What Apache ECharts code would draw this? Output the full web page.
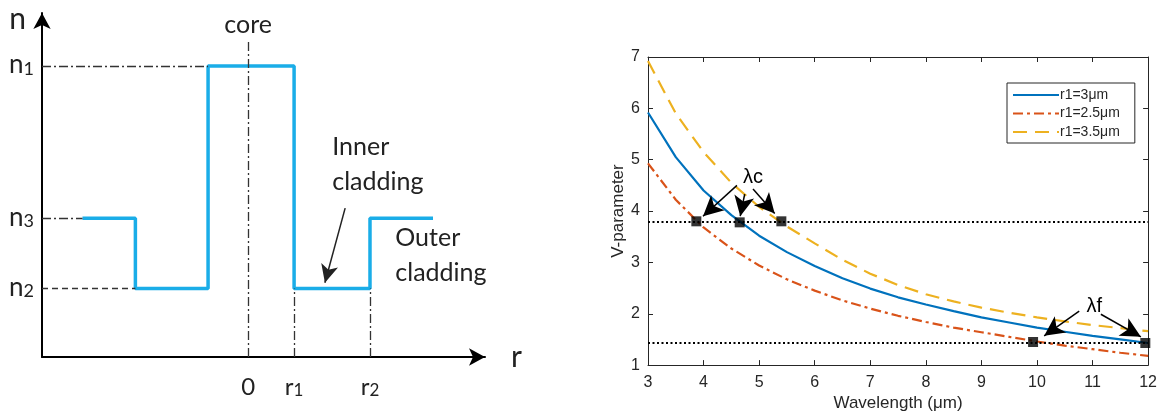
<!DOCTYPE html>
<html>
<head>
<meta charset="utf-8">
<script src="https://cdn.jsdelivr.net/npm/echarts@6.0.0/dist/echarts.min.js"></script>
<style>
  html, body { margin: 0; padding: 0; background: #fff; }
  #main { width: 1160px; height: 417px; }
</style>
</head>
<body>
<div id="main"></div>
<script>
// ---- left: refractive index profile (schematic units) ----
var profileR = [-3.6, -2.45, -2.45, -0.87, -0.87, 1, 1, 2.65, 2.65, 4.02];
var profileN = [4.05, 4.05, 2, 2, 8.5, 8.5, 2, 2, 4.05, 4.05];
var nLevels = [8.5, 4.05, 2];
var nSubs = ['1', '3', '2'];
var rTicks = [0, 1, 2.65];
var rTickLabels = ['0', 'r1', 'r2'];
var rMin = -4.48, rMax = 5.15, nMax = 10.05;

// ---- right: V-parameter vs wavelength ----
var wavelength = [3, 3.5, 4, 4.5, 5, 5.5, 6, 6.5, 7, 7.5, 8, 8.5, 9, 9.5, 10, 10.5, 11, 11.5, 12];
var vR3  = [5.92, 5.05, 4.40, 3.92, 3.52, 3.20, 2.93, 2.69, 2.49, 2.32, 2.18, 2.05, 1.93, 1.83, 1.73, 1.65, 1.57, 1.50, 1.43];
var vR25 = [4.93, 4.22, 3.68, 3.27, 2.94, 2.67, 2.45, 2.26, 2.10, 1.96, 1.84, 1.73, 1.64, 1.55, 1.46, 1.38, 1.31, 1.24, 1.18];
var vR35 = [6.92, 5.90, 5.15, 4.55, 4.08, 3.70, 3.37, 3.05, 2.78, 2.56, 2.38, 2.24, 2.12, 2.02, 1.93, 1.85, 1.78, 1.72, 1.66];
var seriesNames = ['r1=3μm', 'r1=2.5μm', 'r1=3.5μm'];
var cutoffLevels = [3.79, 1.43];
var lambdaC = [[3.87, 3.8], [4.65, 3.78], [5.4, 3.8]];
var lambdaF = [[9.93, 1.45], [11.95, 1.43]];
var arrowsC = [[[4.6, 4.5], [3.99, 3.9]], [[4.74, 4.33], [4.66, 3.9]], [[4.89, 4.43], [5.28, 3.95]]];
var arrowsF = [[[10.76, 2.05], [10.13, 1.57]], [[11.15, 1.99], [11.87, 1.55]]];

function zip(a, b) {
    return a.map(function (v, i) { return [v, b[i]]; });
}

var myChart = echarts.init(document.getElementById('main'), null, {renderer: 'canvas'});

var txt = '#262626';
var leftFont = 'Lato, "Noto Sans", sans-serif';
var rightFont = '"Liberation Sans", Arial, sans-serif';

var dashDot = [9, 3, 2, 3];

var guides = [
    [[rMin, nLevels[0]], [-0.87, nLevels[0]], dashDot],
    [[rMin, nLevels[1]], [-3.6, nLevels[1]], dashDot],
    [[rMin, nLevels[2]], [-2.45, nLevels[2]], [6, 4]],
    [[0, 0], [0, 9.26], dashDot],
    [[1, 0], [1, 2], dashDot],
    [[2.65, 0], [2.65, 2], dashDot]
];

var option = {
    animation: false,
    backgroundColor: '#fff',
    grid: [
        {left: 42, top: 13, width: 443, height: 344},
        {left: 648, top: 57, width: 501, height: 315}
    ],
    xAxis: [
        {
            gridIndex: 0, type: 'value', min: rMin, max: rMax,
            splitLine: {show: false}, axisTick: {show: false},
            axisLine: {onZero: false, lineStyle: {color: '#000', width: 2}, symbol: ['none', 'arrow'], symbolSize: [13, 16]},
            axisLabel: {
                customValues: rTicks, margin: 18,
                formatter: function (v) {
                    var s = rTickLabels[rTicks.indexOf(v)];
                    if (s.length > 1) return '{n|' + s[0] + '}{s|' + s[1] + '}';
                    return '{n|' + s + '}';
                },
                rich: {
                    n: {fontFamily: leftFont, fontSize: 24, color: '#222', verticalAlign: 'bottom', lineHeight: 24},
                    s: {fontFamily: leftFont, fontSize: 17, color: '#222', verticalAlign: 'bottom', lineHeight: 11}
                }
            },
            name: 'r', nameLocation: 'end', nameGap: 26,
            nameTextStyle: {fontFamily: leftFont, fontSize: 30, color: '#222'}
        },
        {
            gridIndex: 1, type: 'value', min: 3, max: 12, interval: 1,
            splitLine: {show: false},
            axisTick: {inside: true, length: 5, lineStyle: {color: txt}},
            axisLine: {onZero: false, lineStyle: {color: txt, width: 1}},
            axisLabel: {color: txt, fontFamily: rightFont, fontSize: 16, margin: 9},
            name: 'Wavelength (μm)', nameLocation: 'middle', nameGap: 25,
            nameTextStyle: {color: txt, fontFamily: rightFont, fontSize: 17}
        },
        {
            gridIndex: 1, type: 'value', min: 3, max: 12, interval: 1, position: 'top',
            splitLine: {show: false}, axisLabel: {show: false},
            axisTick: {inside: true, length: 5, lineStyle: {color: txt}},
            axisLine: {onZero: false, lineStyle: {color: txt, width: 1}}
        }
    ],
    yAxis: [
        {
            gridIndex: 0, type: 'value', min: 0, max: nMax,
            splitLine: {show: false}, axisTick: {show: false},
            axisLine: {onZero: false, lineStyle: {color: '#000', width: 2}, symbol: ['none', 'arrow'], symbolSize: [13, 16]},
            axisLabel: {
                customValues: nLevels, margin: 8,
                formatter: function (v) {
                    return '{n|n}{s|' + nSubs[nLevels.indexOf(v)] + '}';
                },
                rich: {
                    n: {fontFamily: leftFont, fontSize: 26, color: '#222', verticalAlign: 'bottom', lineHeight: 24},
                    s: {fontFamily: leftFont, fontSize: 18, color: '#222', verticalAlign: 'bottom', lineHeight: 11}
                }
            },
            name: 'n', nameLocation: 'end', nameGap: -6,
            nameTextStyle: {fontFamily: leftFont, fontSize: 30, color: '#222', align: 'right', verticalAlign: 'middle', padding: [0, 16, 0, 0]}
        },
        {
            gridIndex: 1, type: 'value', min: 1, max: 7, interval: 1,
            splitLine: {show: false},
            axisTick: {inside: true, length: 5, lineStyle: {color: txt}},
            axisLine: {onZero: false, lineStyle: {color: txt, width: 1}},
            axisLabel: {color: txt, fontFamily: rightFont, fontSize: 16, margin: 8},
            name: 'V-parameter', nameLocation: 'middle', nameGap: 20,
            nameTextStyle: {color: txt, fontFamily: rightFont, fontSize: 17}
        },
        {
            gridIndex: 1, type: 'value', min: 1, max: 7, interval: 1, position: 'right',
            splitLine: {show: false}, axisLabel: {show: false},
            axisTick: {inside: true, length: 5, lineStyle: {color: txt}},
            axisLine: {onZero: false, lineStyle: {color: txt, width: 1}}
        }
    ],
    legend: {
        data: seriesNames,
        orient: 'vertical',
        left: 1007, top: 83,
        padding: [5, 15, 4, 5],
        itemWidth: 46, itemHeight: 14, itemGap: 4.5,
        itemStyle: {opacity: 0},
        borderColor: txt, borderWidth: 1, backgroundColor: '#fff',
        textStyle: {color: txt, fontFamily: rightFont, fontSize: 14, padding: [0, 0, 0, -4]}
    },
    series: [
        // profile
        {
            type: 'line', xAxisIndex: 0, yAxisIndex: 0, symbol: 'none', silent: true,
            data: zip(profileR, profileN),
            lineStyle: {color: '#1AADE8', width: 3.5},
            markLine: {
                silent: true, symbol: 'none', label: {show: false},
                data: guides.map(function (g) {
                    return [{coord: g[0], lineStyle: {color: '#333', width: 1.3, type: g[2]}}, {coord: g[1]}];
                }).concat([[
                    {coord: [2.11, 4.35], symbol: 'none', lineStyle: {color: '#222', width: 1.5, type: 'solid'}},
                    {coord: [1.67, 2.17], symbol: 'arrow', symbolSize: [13, 18]}
                ]])
            },
            markPoint: {
                symbol: 'circle', symbolSize: 0, silent: true,
                data: [
                    {coord: [0, 9.69], label: {formatter: 'core', align: 'center'}},
                    {coord: [1.83, 5.62], label: {formatter: 'Inner\ncladding', align: 'left'}},
                    {coord: [3.2, 2.96], label: {formatter: 'Outer\ncladding', align: 'left'}}
                ],
                label: {show: true, position: [0, 0], verticalAlign: 'middle', fontFamily: leftFont, fontSize: 25, lineHeight: 35, color: '#222'}
            }
        },
        // V-parameter curves
        {
            name: seriesNames[0], type: 'line', xAxisIndex: 1, yAxisIndex: 1, symbol: 'none',
            data: zip(wavelength, vR3),
            itemStyle: {color: '#0072BD'},
            lineStyle: {color: '#0072BD', width: 2.2},
            markLine: {
                silent: true, symbol: ['none', 'arrow'], symbolSize: [15, 20], label: {show: false},
                lineStyle: {color: '#000', width: 1.5, type: 'solid'},
                data: arrowsC.concat(arrowsF).map(function (a) {
                    return [{coord: a[0]}, {coord: a[1]}];
                })
            },
            markPoint: {
                symbol: 'circle', symbolSize: 0, silent: true,
                data: [
                    {coord: [4.89, 4.66], label: {formatter: 'λc'}},
                    {coord: [11.03, 2.14], label: {formatter: 'λf'}}
                ],
                label: {show: true, position: [0, 0], align: 'center', verticalAlign: 'middle', fontFamily: rightFont, fontSize: 20, color: '#000'}
            }
        },
        {
            name: seriesNames[1], type: 'line', xAxisIndex: 1, yAxisIndex: 1, symbol: 'none',
            data: zip(wavelength, vR25),
            itemStyle: {color: '#D95319'},
            lineStyle: {color: '#D95319', width: 2.2, type: [10, 4, 3, 4]}
        },
        {
            name: seriesNames[2], type: 'line', xAxisIndex: 1, yAxisIndex: 1, symbol: 'none',
            data: zip(wavelength, vR35),
            itemStyle: {color: '#EDB120'},
            lineStyle: {color: '#EDB120', width: 2.2, type: [14, 8]}
        },
        // cutoff markers and dotted levels
        {
            type: 'scatter', xAxisIndex: 1, yAxisIndex: 1, symbol: 'rect', symbolSize: 10,
            data: lambdaC.concat(lambdaF), itemStyle: {color: '#000'}, z: 5,
            markLine: {
                silent: true, symbol: 'none', label: {show: false},
                lineStyle: {color: '#000', width: 2, type: [2, 2.5]},
                data: cutoffLevels.map(function (v) { return {yAxis: v}; })
            }
        }
    ]
};

myChart.setOption(option);
</script>
</body>
</html>
